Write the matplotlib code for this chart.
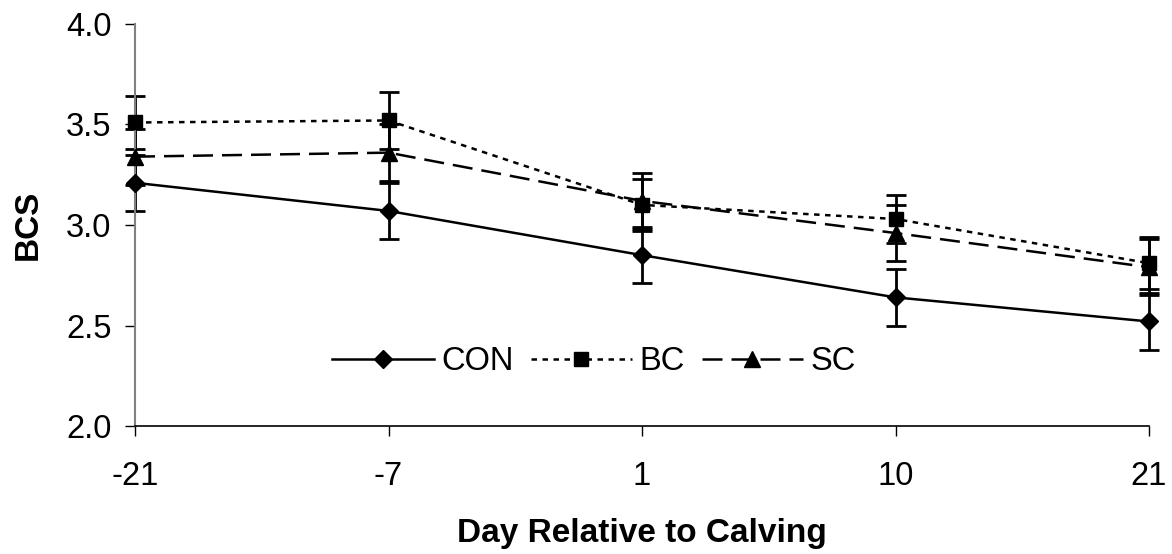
import matplotlib
matplotlib.use('Agg')
import matplotlib.pyplot as plt

days = ['-21', '-7', '1', '10', '21']

con_mean = [3.21, 3.07, 2.85, 2.64, 2.52]
con_err = [0.14, 0.14, 0.14, 0.14, 0.14]
bc_mean = [3.51, 3.52, 3.10, 3.03, 2.81]
bc_err = [0.13, 0.14, 0.13, 0.12, 0.13]
sc_mean = [3.34, 3.36, 3.12, 2.96, 2.79]
sc_err = [0.14, 0.14, 0.14, 0.14, 0.14]

plt.rcParams['font.family'] = ['Liberation Sans', 'DejaVu Sans']

fig = plt.figure(figsize=(11.72, 5.54), dpi=100)
ax = fig.add_axes([0.1152, 0.231, 0.8652, 0.7257])

x = list(range(len(days)))

series = [
    ('CON', con_mean, con_err, 'D', 9.5, '-'),
    ('BC', bc_mean, bc_err, 's', 10.5, (0, (2.2, 2.2))),
    ('SC', sc_mean, sc_err, '^', 12, (0, (8, 3.6))),
]

for name, m, e, mk, ms, ls in series:
    eb = ax.errorbar(x, m, yerr=e, fmt='none', ecolor='black', elinewidth=2,
                     capsize=7, capthick=2, zorder=2)
    for art in eb.lines[1] + eb.lines[2]:
        art.set_clip_on(False)
for name, m, e, mk, ms, ls in series:
    ax.plot(x, m, color='black', linestyle=ls, linewidth=1.8, marker=mk,
            markersize=ms, markerfacecolor='black', markeredgecolor='black',
            label=name, zorder=3, clip_on=False)

ax.set_xlim(0, 4)
ax.set_ylim(2.0, 4.0)
ax.set_xticks(x)
ax.set_xticklabels(days)
ax.set_yticks([2.0, 2.5, 3.0, 3.5, 4.0])
ax.set_yticklabels(['2.0', '2.5', '3.0', '3.5', '4.0'])

ax.spines['top'].set_visible(False)
ax.spines['right'].set_visible(False)
ax.spines['left'].set_color('#808080')
ax.spines['left'].set_linewidth(1.5)
ax.spines['bottom'].set_color('black')
ax.spines['bottom'].set_linewidth(1.2)

ax.tick_params(axis='both', direction='out', length=7, width=1,
               labelsize=23.5, colors='black')
ax.tick_params(axis='y', pad=10)
ax.tick_params(axis='x', pad=18)

ax.set_xlabel('Day Relative to Calving', fontsize=24, fontweight='bold',
              labelpad=19)
ax.set_ylabel('BCS', fontsize=24, fontweight='bold', labelpad=16)

ax.legend(loc='center', bbox_to_anchor=(0.453, 0.16), ncol=3, frameon=False,
          fontsize=23.5, handlelength=3.1, handletextpad=0.25,
          columnspacing=0.5, numpoints=1)

fig.savefig('out.png', dpi=100)
